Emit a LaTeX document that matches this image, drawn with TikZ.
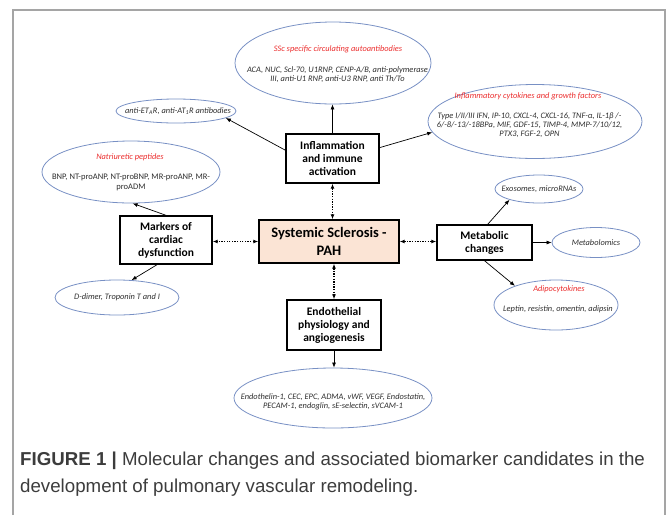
\documentclass[tikz,border=0pt]{standalone}
\usepackage{fontspec}
\setmainfont{Carlito}
\newfontfamily\capfont{Liberation Sans}
\usetikzlibrary{arrows.meta}
\usetikzlibrary{shapes.geometric}
\definecolor{bubline}{RGB}{120,144,196}
\definecolor{bubred}{RGB}{235,45,45}
\definecolor{bubtext}{RGB}{45,45,45}
\definecolor{pahfill}{RGB}{251,228,213}
\definecolor{framegray}{RGB}{165,165,165}
\definecolor{captext}{RGB}{60,60,60}

\begin{document}
\begin{tikzpicture}[x=1pt,y=-1pt,
    bubble/.style={ellipse,draw=bubline,line width=0.8pt,inner sep=0pt},
    bubtitle/.style={text=bubred,font=\fontsize{8.4}{10}\selectfont\itshape,inner sep=0pt},
    bubbody/.style={text=bubtext,font=\fontsize{8.4}{9.3}\selectfont\itshape,align=center,inner sep=0pt},
    topic/.style={draw,line width=1.4pt,align=center,font=\fontsize{11.5}{13}\selectfont\bfseries,inner sep=0pt},
    link/.style={-{Latex[length=5pt,width=4pt]},line width=0.7pt},
    dotlink/.style={{Latex[length=5pt,width=4pt]}-{Latex[length=5pt,width=4pt]},line width=1.5pt,dash pattern=on 1.3pt off 1.3pt}]
    \useasboundingbox (0,0) rectangle (669,515);
    \draw[framegray,line width=1.2pt] (13,515) -- (13,10) -- (665,10) -- (665,515);

    \node[topic,fill=pahfill,minimum width=140pt,minimum height=43pt,font=\fontsize{14.5}{18}\selectfont\bfseries] (sscpah) at (329,241.5) {Systemic Sclerosis -\\PAH};
    \node[topic,minimum width=93pt,minimum height=49pt] (infl) at (332.5,158.5) {Inflammation\\and immune\\activation};
    \node[topic,minimum width=92pt,minimum height=48pt] (mark) at (166,240) {Markers of\\cardiac\\dysfunction};
    \node[topic,minimum width=95pt,minimum height=35pt] (metab) at (484.5,242.5) {Metabolic\\changes};
    \node[topic,minimum width=94pt,minimum height=50pt] (endo) at (334,325) {Endothelial\\physiology and\\angiogenesis};

    \node[bubble,minimum width=196pt,minimum height=82pt] (autoab) at (333,63) {};
    \node[bubtitle] (autoabT) at (338,49) {SSc specific circulating autoantibodies};
    \node[bubbody] (autoabB) at (337.5,74.5) {ACA, NUC, Scl-70, U1RNP, CENP-A/B, anti-polymerase\\III, anti-U1 RNP, anti-U3 RNP, anti Th/To};

    \node[bubble,minimum width=120pt,minimum height=24pt] (antiet) at (176,111) {};
    \node[bubbody] (antietT) at (178,111) {anti-ET\textsubscript{A}R, anti-AT\textsubscript{1}R antibodies};

    \node[bubble,minimum width=214pt,minimum height=74pt] (cytok) at (535,121.5) {};
    \node[bubtitle] (cytokT) at (528,96) {Inflammatory cytokines and growth factors};
    \node[bubbody] (cytokB) at (529.5,125) {Type I/II/III IFN, IP-10, CXCL-4, CXCL-16, TNF-α, IL-1β /-\\6/-8/-13/-18BPa, MIF, GDF-15, TIMP-4, MMP-7/10/12,\\PTX3, FGF-2, OPN};

    \node[bubble,minimum width=178pt,minimum height=62pt] (natri) at (131,172) {};
    \node[bubtitle] (natriT) at (130,157) {Natriuretic peptides};
    \node[bubbody,font=\fontsize{8.5}{10.5}\selectfont] (natriB) at (131,182.5) {BNP, NT-proANP, NT-proBNP, MR-proANP, MR-\\proADM};

    \node[bubble,minimum width=124pt,minimum height=35pt] (ddimer) at (117,297.5) {};
    \node[bubbody] (ddimerT) at (117,297.5) {D-dimer, Troponin T and I};

    \node[bubble,minimum width=88pt,minimum height=28pt] (exo) at (539,189) {};
    \node[bubbody] (exoT) at (539,189) {Exosomes, microRNAs};

    \node[bubble,minimum width=88pt,minimum height=30pt] (metabo) at (596,242.5) {};
    \node[bubbody] (metaboT) at (596,242.5) {Metabolomics};

    \node[bubble,minimum width=124pt,minimum height=50pt] (adipo) at (556,305) {};
    \node[bubtitle] (adipoT) at (559,289) {Adipocytokines};
    \node[bubbody] (adipoB) at (558,309) {Leptin, resistin, omentin, adipsin};

    \node[bubble,minimum width=198pt,minimum height=60pt] (endomk) at (333,398) {};
    \node[bubbody] (endomkB) at (333,401.5) {Endothelin-1, CEC, EPC, ADMA, vWF, VEGF, Endostatin,\\PECAM-1, endoglin, sE-selectin, sVCAM-1};

    \draw[link] (infl.north) -- (infl.north |- autoab.south);
    \draw[link] (infl.170) -- (antiet.-8);
    \draw[link] (infl.13) -- (cytok.186);
    \draw[link] (mark.north) -- (natri.-87);
    \draw[link] (mark.-110) -- (ddimer.50);
    \draw[link] (metab.80) -- (exo.200);
    \draw[link] (metab.east) -- (metabo.west);
    \draw[link] (metab.south) -- (adipo.155);
    \draw[link] (endo.south) -- (endo.south |- endomk.north);

    \draw[dotlink] (infl.south) -- (infl.south |- sscpah.north);
    \draw[dotlink] (sscpah.west) -- (sscpah.west -| mark.east);
    \draw[dotlink] (sscpah.east) -- (sscpah.east -| metab.west);
    \draw[dotlink] (endo.north |- sscpah.south) -- (endo.north);

    \node[anchor=west,inner sep=0pt,text=captext,font=\capfont\fontsize{18.7}{22}\selectfont] (cap1) at (20,461) {\textbf{FIGURE 1 |} Molecular changes and associated biomarker candidates in the};
    \node[anchor=west,inner sep=0pt,text=captext,font=\capfont\fontsize{18.7}{22}\selectfont] (cap2) at (20,488) {development of pulmonary vascular remodeling.};
\end{tikzpicture}
\end{document}
